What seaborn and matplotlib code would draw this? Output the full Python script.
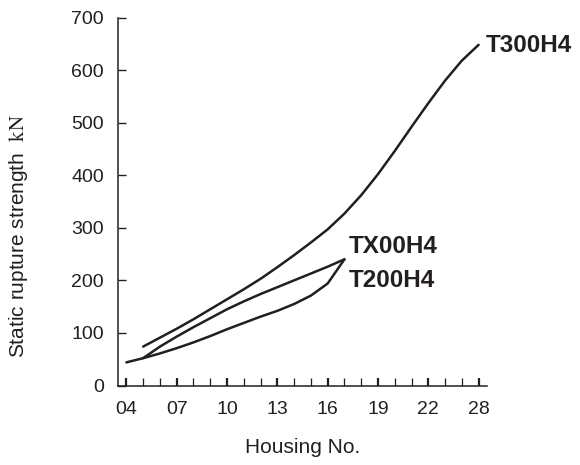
import matplotlib
matplotlib.use("Agg")
import matplotlib.pyplot as plt
import seaborn as sns
import pandas as pd

# Category positions along the x axis (one tick per housing size)
tick_labels = ["04", "07", "10", "13", "16", "19", "22", "28"]
tick_pos = [0, 3, 6, 9, 12, 15, 18, 21]

# Series values (index along axis -> kN)
t300_x = list(range(1, 22))
t300_y = [74, 91, 108, 126, 145, 164, 183, 203, 225, 248, 272, 297, 327,
          362, 402, 446, 492, 537, 580, 618, 648]

tx00_x = list(range(1, 14))
tx00_y = [52, 74, 93, 111, 128, 145, 160, 174, 187, 200, 213, 226, 240]

t200_x = list(range(0, 14))
t200_y = [44, 52, 61, 71, 82, 94, 107, 119, 131, 142, 155, 171, 194, 240]

series_names = ["T300H4", "TX00H4", "T200H4"]

sns.set_style("ticks")
plt.rcParams["font.family"] = ["Liberation Sans", "DejaVu Sans"]
plt.rcParams["mathtext.fontset"] = "stix"

fig = plt.figure(figsize=(5.8, 4.65), dpi=100)
ax = fig.add_axes([118 / 580, 1 - 385.5 / 465, (487 - 118) / 580, (385.5 - 17.5) / 465])

frames = []
for name, xs, ys in zip(series_names, [t300_x, tx00_x, t200_x], [t300_y, tx00_y, t200_y]):
    frames.append(pd.DataFrame({"pos": xs, "kN": ys, "series": name}))
df = pd.concat(frames, ignore_index=True)

sns.lineplot(data=df, x="pos", y="kN", units="series", estimator=None,
             color="#231f20", linewidth=1.8, sort=False, ax=ax, legend=False)

ax.set_xlim(-0.5, 21.5)
ax.set_ylim(0, 700)
ax.set_yticks(range(0, 701, 100))
ax.set_xticks(tick_pos)
ax.set_xticklabels(tick_labels)
ax.set_xticks(range(0, 22), minor=True)

for s in ["top", "right"]:
    ax.spines[s].set_visible(False)
for s in ["left", "bottom"]:
    ax.spines[s].set_linewidth(1.1)
    ax.spines[s].set_color("#231f20")

ax.tick_params(axis="x", which="major", direction="in", length=6, width=1.6,
               labelsize=14, pad=11, colors="#231f20")
ax.tick_params(axis="x", which="minor", direction="in", length=6, width=0.9,
               colors="#231f20")
ax.tick_params(axis="y", which="major", direction="in", length=6, width=1.0,
               labelsize=14, pad=10, colors="#231f20")

ax.set_xlabel("")
ax.set_ylabel("")
fig.text(303 / 580, 1 - 447 / 465, "Housing No.", ha="center", va="center",
         fontsize=15, color="#231f20")
fig.text(19 / 580, 1 - 236 / 465, r"Static rupture strength  $\mathrm{kN}$",
         rotation=90, ha="center", va="center", fontsize=15, color="#231f20")

label_pos = {"T300H4": (21.45, 647), "TX00H4": (13.27, 265), "T200H4": (13.27, 199)}
for name in series_names:
    x, y = label_pos[name]
    ax.text(x, y, name, ha="left", va="center", fontsize=17.5, fontweight="bold",
            color="#231f20", clip_on=False)

fig.savefig("out.png", dpi=100)
